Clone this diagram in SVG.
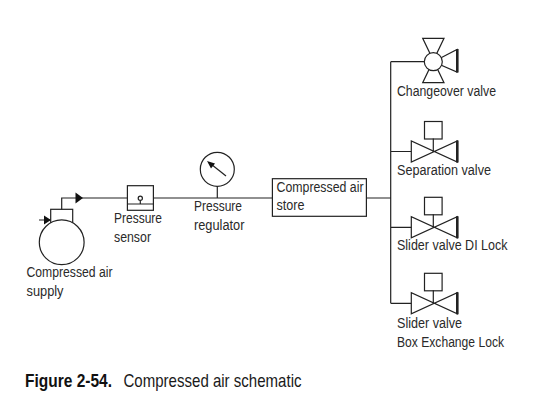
<svg xmlns="http://www.w3.org/2000/svg" width="540" height="406" viewBox="0 0 540 406">
<style>
.l{fill:none;stroke:#222;stroke-width:1.2}
.s{fill:#fff;stroke:#222;stroke-width:1.2}
.b{fill:none;stroke:#222;stroke-width:2.6}
.h{fill:#111;stroke:none}
text{font-family:"Liberation Sans Narrow","Liberation Sans",Arial,sans-serif;font-size:15.5px;fill:#2a2a2a}
.c{font-size:18.5px;fill:#1a1a1a}
.f{font-weight:bold;font-size:17.5px;fill:#111}
</style>
<defs>
<g id="valve">
<path class="l" d="M-22,-10.5V10.5L24,-10.5V10.5Z"/>
<path class="b" d="M24,-11V11"/>
<path class="l" d="M0,0V-13"/>
<rect class="l" x="-8.8" y="-30" width="17.6" height="17.5"/>
</g>
</defs>
<g id="connectors">
<path class="l" d="M61.7,209.500V198H127.500M153.500,198H272.500M366.500,198H390.700M390.700,61.700V303.300M390.700,61.700H424M390.700,151.500H411.300M390.700,227.300H411.300M390.700,303.300H411.300M39,220H50.500"/>
<path class="h" d="M83,198L75.500,192.500V203.500Z"/>
<path class="h" d="M51,220L44,215.500V224.500Z"/>
</g>
<g id="compressed-air-supply">
<rect class="l" x="50.700" y="209.300" width="22" height="16"/>
<circle class="s" cx="61.700" cy="242.300" r="22.400"/>
<text x="26.500" y="276.700" textLength="86" lengthAdjust="spacingAndGlyphs">Compressed air</text>
<text x="26.500" y="295.500" textLength="37" lengthAdjust="spacingAndGlyphs">supply</text>
</g>
<g id="pressure-sensor">
<rect class="l" x="127.400" y="185.700" width="26" height="24.600"/>
<path class="l" d="M127.400,204H153.400M140.300,200.500V204"/>
<circle class="s" cx="140.300" cy="198.300" r="2.100"/>
<text x="114" y="222.700" textLength="48" lengthAdjust="spacingAndGlyphs">Pressure</text>
<text x="114" y="242" textLength="37" lengthAdjust="spacingAndGlyphs">sensor</text>
</g>
<g id="pressure-regulator">
<path class="l" d="M217.300,186V198"/>
<circle class="l" cx="217.300" cy="169.300" r="17"/>
<path class="l" d="M226,176L210,163.300"/>
<path class="h" d="M207,161L215,163.500L211,168.500Z"/>
<text x="194" y="210.700" textLength="48" lengthAdjust="spacingAndGlyphs">Pressure</text>
<text x="194" y="229.700" textLength="50.500" lengthAdjust="spacingAndGlyphs">regulator</text>
</g>
<g id="compressed-air-store">
<rect class="l" x="272.400" y="178.700" width="94" height="37.600"/>
<text x="276.500" y="191.700" textLength="87" lengthAdjust="spacingAndGlyphs">Compressed air</text>
<text x="276.500" y="209.500" textLength="28" lengthAdjust="spacingAndGlyphs">store</text>
</g>
<g id="changeover-valve">
<path class="l" d="M422.700,38.300H444L422.700,82.700H444ZM433.300,61.700L457,49.500V72Z"/>
<path class="b" d="M457.300,49V72.500"/>
<circle class="s" cx="433.300" cy="61.700" r="9"/>
<text x="397" y="96" textLength="99" lengthAdjust="spacingAndGlyphs">Changeover valve</text>
</g>
<g id="separation-valve">
<use href="#valve" x="433.300" y="151.500"/>
<text x="397" y="175.300" textLength="94" lengthAdjust="spacingAndGlyphs">Separation valve</text>
</g>
<g id="slider-valve-di-lock">
<use href="#valve" x="433.300" y="227.300"/>
<text x="397" y="250" textLength="110.500" lengthAdjust="spacingAndGlyphs">Slider valve DI Lock</text>
</g>
<g id="slider-valve-box-exchange-lock">
<use href="#valve" x="433.300" y="303.300"/>
<text x="397" y="327.700" textLength="65" lengthAdjust="spacingAndGlyphs">Slider valve</text>
<text x="397" y="346.700" textLength="107" lengthAdjust="spacingAndGlyphs">Box Exchange Lock</text>
</g>
<g id="caption">
<text class="f" x="25" y="387.300" textLength="87" lengthAdjust="spacingAndGlyphs">Figure 2-54.</text>
<text class="c" x="123.500" y="387.300" textLength="178" lengthAdjust="spacingAndGlyphs">Compressed air schematic</text>
</g>
</svg>
